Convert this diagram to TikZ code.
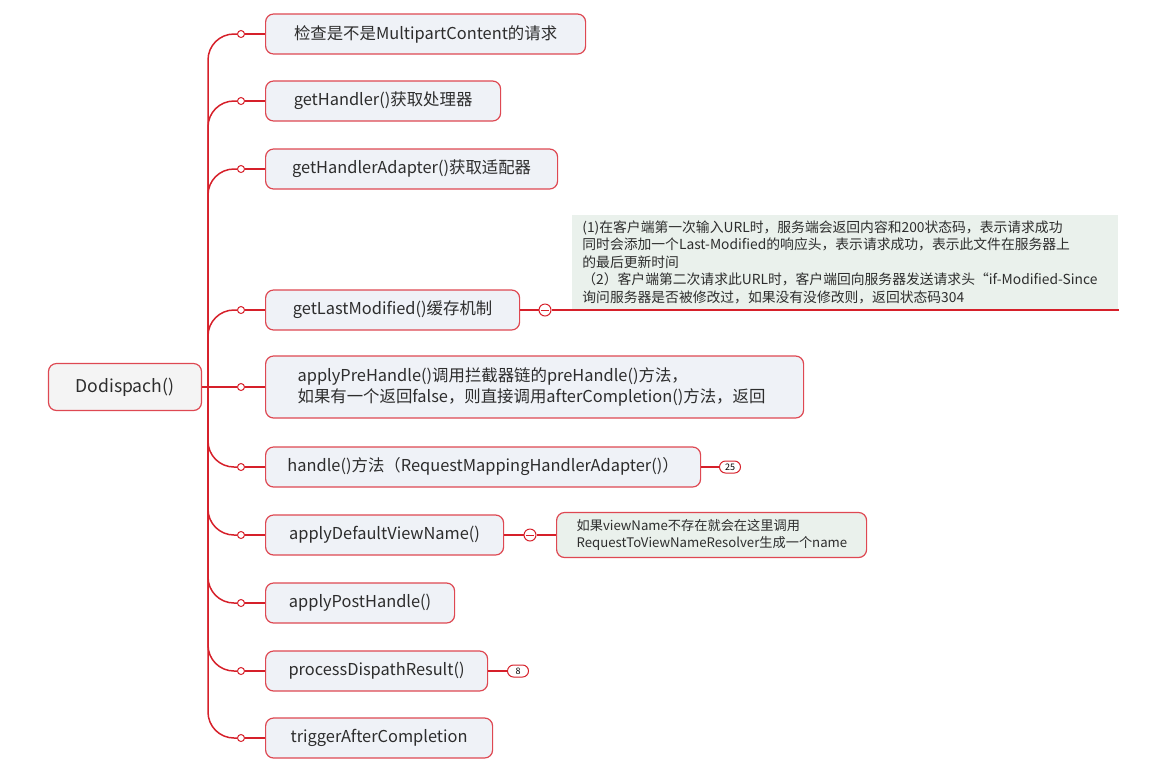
\documentclass[tikz,border=0pt]{standalone}
\usepackage{fontspec}
\setmainfont{Noto Sans CJK SC}
\usetikzlibrary{positioning}

\definecolor{linered}{RGB}{214,32,42}
\definecolor{boxred}{RGB}{222,72,82}
\definecolor{boxfill}{RGB}{239,242,247}
\definecolor{notefill}{RGB}{234,241,236}
\definecolor{rootfill}{RGB}{244,244,244}
\definecolor{txt}{RGB}{45,45,45}

\begin{document}
\begin{tikzpicture}[x=0.5pt, y=-0.5pt,
    branch/.style={draw=linered, line width=0.75pt},
    item/.style={draw=boxred, fill=boxfill, line width=0.6pt, rounded corners=4pt, anchor=west,
        minimum height=20pt, inner xsep=7pt, text=txt, font=\fontsize{8.2}{10.5}\selectfont},
    rootbox/.style={draw=boxred, fill=rootfill, line width=0.6pt, rounded corners=4pt,
        minimum width=76.5pt, minimum height=23.5pt, text=txt, font=\fontsize{8.8}{10}\selectfont},
    dot/.style={circle, draw=linered, fill=white, line width=0.5pt, inner sep=0pt, minimum size=3.5pt},
    minus/.style={circle, draw=linered, fill=white, line width=0.5pt, inner sep=0pt, minimum size=6pt,
        path picture={\draw[linered, line width=0.5pt] ([xshift=-1.8pt]path picture bounding box.center) -- ([xshift=1.8pt]path picture bounding box.center);}},
    badge/.style={draw=linered, fill=white, line width=0.5pt, rounded corners=3pt, inner sep=0.5pt,
        minimum width=10.5pt, minimum height=6pt, font=\fontsize{4.5}{5}\selectfont},
    note/.style={fill=notefill, text=txt, align=left, font=\fontsize{6.9}{8.75}\selectfont}]

    \useasboundingbox (0,0) rectangle (1162,773);

    % root
    \node[rootbox] (root) at (125,387) {Dodispach()};
    \coordinate (hub) at (208,387);
    \draw[branch] (root) -- (hub);

    % small circles on the branches
    \node[dot] (d1) at (241,34) {};
    \node[dot] (d2) at (241,101) {};
    \node[dot] (d3) at (241,169) {};
    \node[dot] (d4) at (241,310) {};
    \node[dot] (d5) at (241,387) {};
    \node[dot] (d6) at (241,467) {};
    \node[dot] (d7) at (241,535) {};
    \node[dot] (d8) at (241,603) {};
    \node[dot] (d9) at (241,671) {};
    \node[dot] (d10) at (241,738) {};

    \draw[branch, rounded corners=13pt] (hub) |- (d1);
    \draw[branch, rounded corners=13pt] (hub) |- (d2);
    \draw[branch, rounded corners=13pt] (hub) |- (d3);
    \draw[branch, rounded corners=13pt] (hub) |- (d4);
    \draw[branch] (hub) -- (d5);
    \draw[branch, rounded corners=13pt] (hub) |- (d6);
    \draw[branch, rounded corners=13pt] (hub) |- (d7);
    \draw[branch, rounded corners=13pt] (hub) |- (d8);
    \draw[branch, rounded corners=13pt] (hub) |- (d9);
    \draw[branch, rounded corners=13pt] (hub) |- (d10);

    % steps
    \node[item, minimum width=160pt] (check) at (265,34) {检查是不是MultipartContent的请求};
    \node[item, minimum width=117.5pt] (handler) at (265,101) {getHandler()获取处理器};
    \node[item, minimum width=146pt] (adapter) at (265,169) {getHandlerAdapter()获取适配器};
    \node[item, minimum width=127pt] (lastmod) at (265,310) {getLastModified()缓存机制};
    \node[item, minimum height=31pt, align=left, text width=237pt, inner xsep=16pt] (prehandle) at (265,387)
        {applyPreHandle()调用拦截器链的preHandle()方法，\\如果有一个返回false，则直接调用afterCompletion()方法，返回};
    \node[item, minimum width=217.5pt] (handle) at (265,467) {handle()方法（RequestMappingHandlerAdapter()）};
    \node[item, minimum width=119pt] (viewname) at (265,535) {applyDefaultViewName()};
    \node[item, minimum width=94.5pt] (posthandle) at (265,603) {applyPostHandle()};
    \node[item, minimum width=111pt] (result) at (265,671) {processDispathResult()};
    \node[item, minimum width=113.5pt] (trigger) at (265,738) {triggerAfterCompletion};

    \draw[branch] (d1) -- (check);
    \draw[branch] (d2) -- (handler);
    \draw[branch] (d3) -- (adapter);
    \draw[branch] (d4) -- (lastmod);
    \draw[branch] (d5) -- (prehandle);
    \draw[branch] (d6) -- (handle);
    \draw[branch] (d7) -- (viewname);
    \draw[branch] (d8) -- (posthandle);
    \draw[branch] (d9) -- (result);
    \draw[branch] (d10) -- (trigger);

    % note on getLastModified
    \node[minus] (m1) at (545,310) {};
    \draw[branch] (lastmod) -- (m1);
    \node[note, anchor=south west, minimum width=273pt, minimum height=47.5pt, text width=267pt,
        inner xsep=3pt, inner ysep=1.5pt] (cache) at (572,310)
        {\hspace*{2pt}(1)在客户端第一次输入URL时，服务端会返回内容和200状态码，表示请求成功\\
         \hspace*{2pt}同时会添加一个Last-Modified的响应头，表示请求成功，表示此文件在服务器上\\
         \hspace*{2pt}的最后更新时间\\
         \hspace*{2pt}（2）客户端第二次请求此URL时，客户端回向服务器发送请求头“if-Modified-Since\\
         \hspace*{2pt}询问服务器是否被修改过，如果没有没修改则，返回状态码304};
    \draw[branch] (m1) -- (cache.south east);

    % note on applyDefaultViewName
    \node[minus] (m2) at (530,535) {};
    \draw[branch] (viewname) -- (m2);
    \node[note, draw=boxred, line width=0.6pt, rounded corners=4pt, anchor=west, minimum height=21pt,
        text width=145pt, inner xsep=5pt, font=\fontsize{6.6}{8.75}\selectfont] (resolver) at (556,535)
        {\hspace*{5pt}如果viewName不存在就会在这里调用\\\hspace*{5pt}RequestToViewNameResolver生成一个name};
    \draw[branch] (m2) -- (resolver);

    % counters
    \node[badge] (b25) at (730,467) {25};
    \draw[branch] (handle) -- (b25);
    \node[badge] (b8) at (518,671) {8};
    \draw[branch] (result) -- (b8);

\end{tikzpicture}
\end{document}
